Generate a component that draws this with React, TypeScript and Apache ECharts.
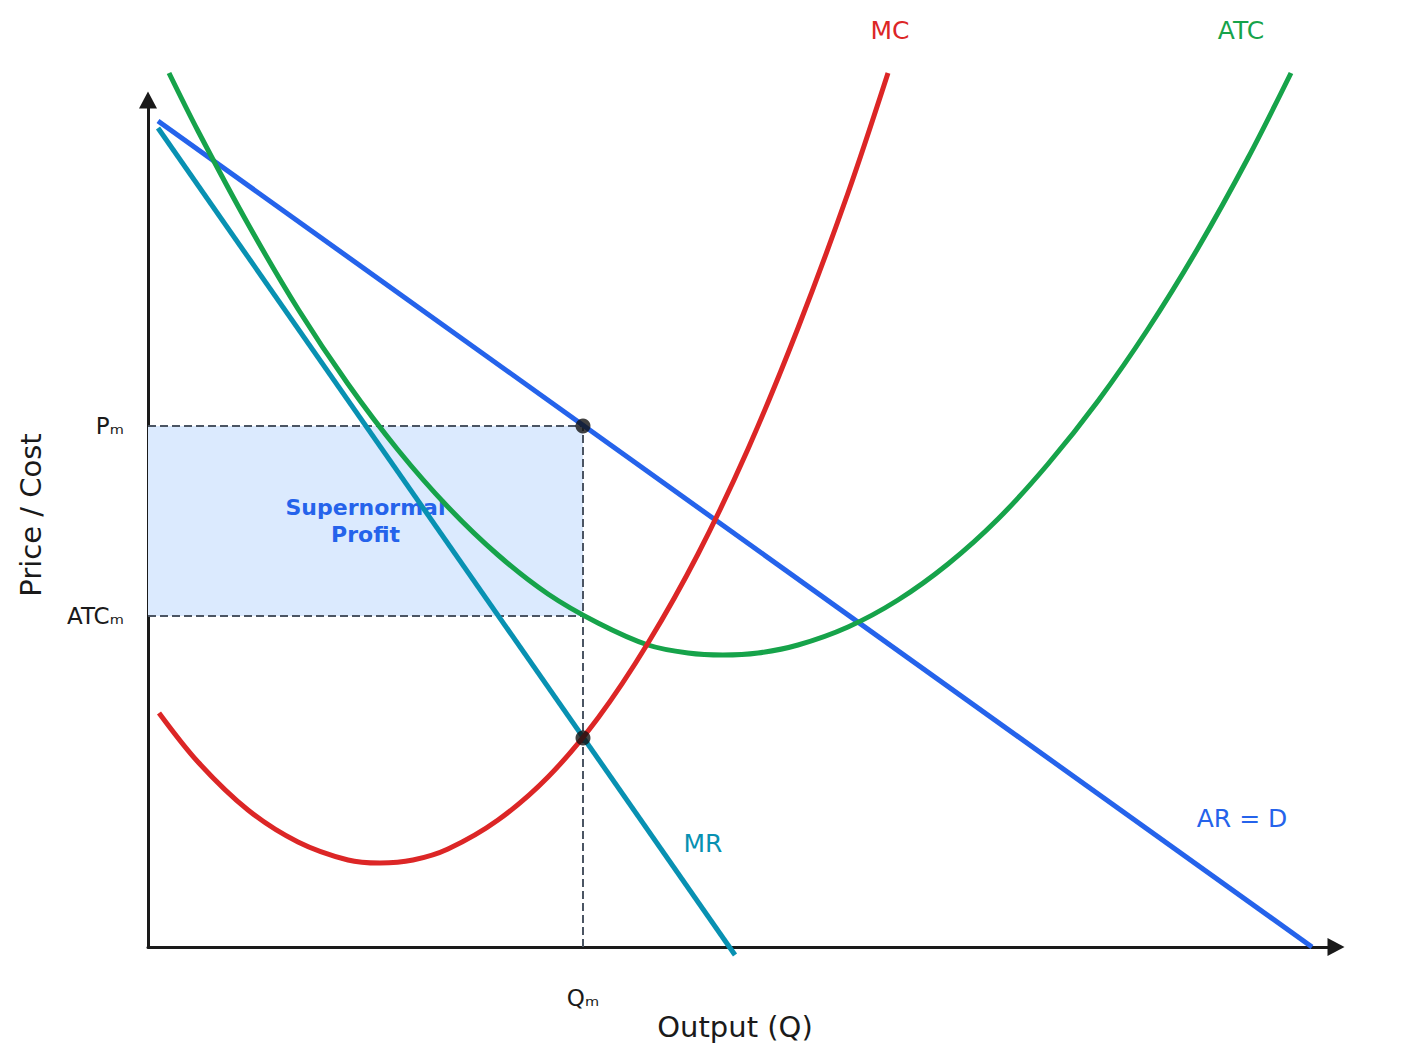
import React, { useEffect, useRef } from 'react'
import * as echarts from 'echarts'

// chart units: output (x) and price / cost (y)
const qM = 43.5
const pM = 52.1
const atcM = 33.1
const mcAtQm = 20.9

const arLine = [
  [1.0, 82.6],
  [116.4, 0],
]
const mrLine = [
  [1.0, 81.9],
  [58.7, -0.8],
]
const mcCurve = [
  [1.1, 23.4], [5, 18.5], [10, 13.7], [15, 10.5], [20, 8.7], [23.2, 8.4], [26.5, 8.7],
  [30, 9.8], [35, 12.7], [40, 17.0], [45, 22.9], [50, 30.4], [55, 39.3], [60, 49.8],
  [65, 61.9], [70, 75.4], [74.0, 87.4],
]
const atcCurve = [
  [2.1, 87.4], [5, 81.6], [10, 72.3], [15, 63.8], [20, 56.3], [25, 49.7], [30, 44.0],
  [35, 39.2], [40, 35.3], [45, 32.4], [50, 30.2], [54, 29.4], [57.5, 29.2], [61, 29.4],
  [65, 30.2], [70, 32.0], [75, 34.7], [80, 38.3], [85, 42.8], [90, 48.3], [95, 54.6],
  [100, 61.8], [105, 69.9], [110, 78.9], [114.3, 87.4],
]

const yTickLabels = ['Pₘ', 'ATCₘ']
const xTickLabel = 'Qₘ'
const curveLabels = ['MC', 'ATC', 'MR', 'AR = D']

const FONT = "'DejaVu Sans', 'Noto Sans', sans-serif"
const BLUE = '#2563eb'
const TEAL = '#0891b2'
const RED = '#dc2626'
const GREEN = '#16a34a'
const INK = '#1a1a1a'
const DASH = '#4b5563'

const App: React.FC = () => {
  const chartRef = useRef<HTMLDivElement>(null)

  useEffect(() => {
    if (!chartRef.current) return
    document.body.style.margin = '0'

    const chart = echarts.init(chartRef.current, null, { renderer: 'svg' })

    const curve = (name: string, data: number[][], color: string, smooth: boolean | number) => ({
      name,
      type: 'line',
      data,
      smooth,
      showSymbol: false,
      symbol: 'none',
      clip: false,
      silent: true,
      z: 3,
      lineStyle: { color, width: 5, cap: 'butt' },
    })

    const axisLine = {
      show: true,
      symbol: ['none', 'triangle'],
      symbolSize: [18, 17],
      lineStyle: { color: INK, width: 3 },
    }

    const option = {
      animation: false,
      grid: { left: 148, top: 100, right: 86, bottom: 113 },
      xAxis: {
        type: 'value',
        min: 0,
        max: 118.8,
        name: 'Output (Q)',
        nameLocation: 'middle',
        nameGap: 65,
        nameTextStyle: { fontSize: 29, color: INK, fontFamily: FONT, padding: [0, 14, 0, 0] },
        axisLine,
        axisTick: { show: false },
        axisLabel: { show: false },
        splitLine: { show: false },
      },
      yAxis: {
        type: 'value',
        min: 0,
        max: 84.7,
        name: 'Price / Cost',
        nameLocation: 'middle',
        nameGap: 103,
        nameTextStyle: { fontSize: 29, color: INK, fontFamily: FONT, padding: [0, 0, 0, 17] },
        axisLine,
        axisTick: { show: false },
        axisLabel: { show: false },
        splitLine: { show: false },
      },
      series: [
        {
          name: 'profit',
          type: 'line',
          data: [],
          z: 0,
          silent: true,
          markArea: {
            silent: true,
            itemStyle: { color: '#dbeafe' },
            label: {
              show: true,
              position: 'inside',
              formatter: 'Supernormal\nProfit',
              color: BLUE,
              fontWeight: 'bold',
              fontSize: 22,
              lineHeight: 27,
              fontFamily: FONT,
            },
            data: [[{ coord: [0, pM] }, { coord: [qM, atcM] }]],
          },
        },
        {
          name: 'guide Pm',
          type: 'line',
          data: [[0, pM], [qM, pM], [qM, 0]],
          showSymbol: false,
          symbol: 'none',
          silent: true,
          z: 1,
          lineStyle: { color: DASH, width: 2, type: [8, 4] },
        },
        {
          name: 'guide ATCm',
          type: 'line',
          data: [[0, atcM], [qM, atcM]],
          showSymbol: false,
          symbol: 'none',
          silent: true,
          z: 1,
          lineStyle: { color: DASH, width: 2, type: [8, 4] },
        },
        curve('AR', arLine, BLUE, false),
        curve('MR', mrLine, TEAL, false),
        curve('ATC', atcCurve, GREEN, 0.33),
        curve('MC', mcCurve, RED, 0.33),
        {
          name: 'points',
          type: 'scatter',
          data: [[qM, pM], [qM, mcAtQm]],
          symbolSize: 15,
          silent: true,
          z: 5,
          itemStyle: { color: '#111111' },
        },
      ],
    }

    chart.setOption(option)

    const px = (p: number[]) => chart.convertToPixel({ gridIndex: 0 }, p) as number[]
    const text = (
      p: number[], dx: number, dy: number, t: string, color: string, size: number, align = 'center'
    ) => {
      const [x, y] = px(p)
      return {
        type: 'text',
        x: x + dx,
        y: y + dy,
        silent: true,
        z: 10,
        style: { text: t, fill: color, fontSize: size, fontFamily: FONT, align, verticalAlign: 'middle' },
      }
    }

    const last = (a: number[][]) => a[a.length - 1]

    chart.setOption({
      graphic: [
        text([0, pM], -24, 0, yTickLabels[0], INK, 23, 'right'),
        text([0, atcM], -24, 0, yTickLabels[1], INK, 23, 'right'),
        text([qM, 0], 0, 51, xTickLabel, INK, 23),
        text(last(mcCurve), 2, -43, curveLabels[0], RED, 25),
        text(last(atcCurve), -50, -43, curveLabels[1], GREEN, 25),
        text(last(mrLine), -32, -112, curveLabels[2], TEAL, 25),
        text(last(arLine), -70, -129, curveLabels[3], BLUE, 25),
      ],
    })

    return () => {
      chart.dispose()
    }
  }, [])

  return <div ref={chartRef} style={{ width: 1422, height: 1060 }} />
}

export default App
